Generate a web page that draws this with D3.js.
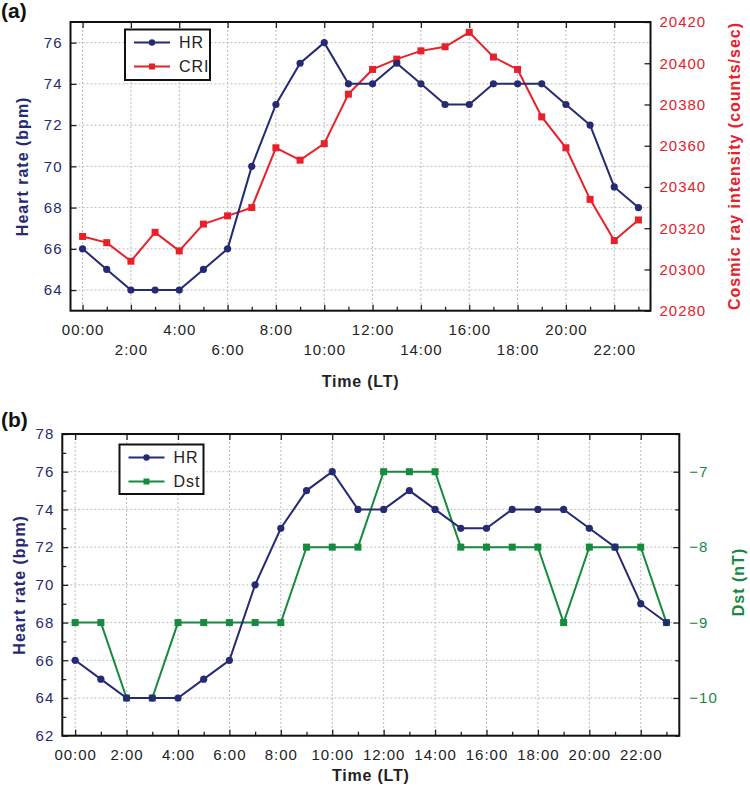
<!DOCTYPE html>
<html lang="en">
<head>
<meta charset="UTF-8">
<script src="https://d3js.org/d3.v7.min.js"></script>
<style>
  body { margin: 0; background: #fff; }
  svg { display: block; }
  text { font-family: "Liberation Sans", Arial, sans-serif; }
</style>
</head>
<body>
<div id="chart"></div>
<script>
// hours of the day (local time)
const hours = [0,1,2,3,4,5,6,7,8,9,10,11,12,13,14,15,16,17,18,19,20,21,22,23];
const hourLabels = ["00:00","2:00","4:00","6:00","8:00","10:00","12:00","14:00","16:00","18:00","20:00","22:00"];
const labelHours = [0,2,4,6,8,10,12,14,16,18,20,22];

// heart rate (bpm), same in both panels
const hr = [66,65,64,64,64,65,66,70,73,75,76,74,74,75,74,73,73,74,74,74,73,72,69,68];
// cosmic ray intensity (counts/sec)
const cri = [20316,20313,20304,20318,20309,20322,20326,20330,20359,20353,20361,20385,
             20397,20402,20406,20408,20415,20403,20397,20374,20359,20334,20314,20324];
// Dst index (nT)
const dst = [-9,-9,-10,-10,-9,-9,-9,-9,-9,-8,-8,-8,-7,-7,-7,-8,-8,-8,-8,-9,-8,-8,-8,-9];

const hrTicksA = [64,66,68,70,72,74,76];
const criTicks = [20280,20300,20320,20340,20360,20380,20400,20420];
const hrTicksB = [62,64,66,68,70,72,74,76,78];
const dstTicks = [-10,-9,-8,-7];

const navy = "#262a72";
const red = "#e8202a";
const green = "#168a3e";
const font = "'Liberation Sans', Arial, sans-serif";

const svg = d3.select("#chart").append("svg")
  .attr("width", 750).attr("height", 796);

function styleAxis(g, color) {
  g.select(".domain").remove();
  g.selectAll("line").attr("stroke", "#222").attr("stroke-width", 1.3);
  g.selectAll("text").attr("font-family", font).attr("font-size", 15)
    .attr("fill", color).style("letter-spacing", "1px");
}

function drawPanel(p) {
  const x = d3.scaleLinear().domain([-0.5, 23.5]).range([p.left, p.right]);
  const yL = d3.scaleLinear().domain(p.hrDomain).range([p.bottom, p.top]);
  const yR = d3.scaleLinear().domain(p.rDomain).range([p.bottom, p.top]);
  const g = svg.append("g");

  // grid
  g.append("g").selectAll("line").data(labelHours).join("line")
    .attr("x1", d => x(d)).attr("x2", d => x(d))
    .attr("y1", p.top).attr("y2", p.bottom)
    .attr("stroke", "#bdbdbd").attr("stroke-dasharray", "2,2");
  g.append("g").selectAll("line").data(p.hrTicks).join("line")
    .attr("x1", p.left).attr("x2", p.right)
    .attr("y1", d => yL(d)).attr("y2", d => yL(d))
    .attr("stroke", "#bdbdbd").attr("stroke-dasharray", "2,2");

  // axes
  const ax = g.append("g").attr("transform", `translate(0,${p.bottom})`)
    .call(d3.axisBottom(x).tickValues(labelHours)
      .tickFormat((d, i) => hourLabels[i]).tickSizeInner(-6).tickSizeOuter(0).tickPadding(14));
  styleAxis(ax, "#222");
  if (p.twoRows) {
    ax.selectAll(".tick text").attr("dy", d => (d % 4 === 2) ? "2.05em" : "0.71em");
  }
  const axm = g.append("g").attr("transform", `translate(0,${p.bottom})`)
    .call(d3.axisBottom(x).tickValues(hours.filter(h => h % 2 === 1))
      .tickFormat("").tickSizeInner(-4).tickSizeOuter(0));
  styleAxis(axm, "#222");
  const at = g.append("g").attr("transform", `translate(0,${p.top})`)
    .call(d3.axisTop(x).tickValues(labelHours).tickFormat("").tickSizeInner(-6).tickSizeOuter(0));
  styleAxis(at, "#222");

  const al = g.append("g").attr("transform", `translate(${p.left},0)`)
    .call(d3.axisLeft(yL).tickValues(p.hrTicks).tickFormat(d3.format("d"))
      .tickSizeInner(-6).tickSizeOuter(0).tickPadding(8));
  styleAxis(al, navy);
  if (p.hrMinor) {
    const alm = g.append("g").attr("transform", `translate(${p.left},0)`)
      .call(d3.axisLeft(yL).tickValues(p.hrMinor).tickFormat("").tickSizeInner(-4).tickSizeOuter(0));
    styleAxis(alm, navy);
  }
  const ar = g.append("g").attr("transform", `translate(${p.right},0)`)
    .call(d3.axisRight(yR).tickValues(p.rTicks).tickFormat(p.rFormat)
      .tickSizeInner(-6).tickSizeOuter(0).tickPadding(p.rPad));
  styleAxis(ar, p.rColor);
  if (p.rMinor) {
    const arm = g.append("g").attr("transform", `translate(${p.right},0)`)
      .call(d3.axisRight(yR).tickValues(p.rMinor).tickFormat("").tickSizeInner(-4).tickSizeOuter(0));
    styleAxis(arm, p.rColor);
  }

  // frame
  g.append("rect").attr("x", p.left).attr("y", p.top)
    .attr("width", p.right - p.left).attr("height", p.bottom - p.top)
    .attr("fill", "none").attr("stroke", "#111").attr("stroke-width", 2);

  // series
  const lineL = d3.line().x((d, i) => x(hours[i])).y(d => yL(d));
  const lineR = d3.line().x((d, i) => x(hours[i])).y(d => yR(d));

  g.append("path").datum(p.rData).attr("d", lineR)
    .attr("fill", "none").attr("stroke", p.rColor).attr("stroke-width", 2);
  g.append("g").selectAll("rect").data(p.rData).join("rect")
    .attr("x", (d, i) => x(hours[i]) - 3.5).attr("y", d => yR(d) - 3.5)
    .attr("width", 7).attr("height", 7).attr("fill", p.rColor);

  g.append("path").datum(hr).attr("d", lineL)
    .attr("fill", "none").attr("stroke", navy).attr("stroke-width", 2);
  g.append("g").selectAll("circle").data(hr).join("circle")
    .attr("cx", (d, i) => x(hours[i])).attr("cy", d => yL(d))
    .attr("r", 3.6).attr("fill", navy);

  // legend
  const lg = g.append("g");
  lg.append("rect").attr("x", p.leg.x).attr("y", p.leg.y).attr("width", p.leg.w).attr("height", p.leg.h)
    .attr("fill", "#fff").attr("stroke", "#111").attr("stroke-width", 2);
  const items = [
    { name: "HR", color: navy, shape: "circle" },
    { name: p.rName, color: p.rColor, shape: "square" }
  ];
  items.forEach((it, i) => {
    const yy = p.leg.y + 13 + i * 24;
    const x0 = p.leg.x + 9, x1 = x0 + 36;
    lg.append("line").attr("x1", x0).attr("x2", x1).attr("y1", yy).attr("y2", yy)
      .attr("stroke", it.color).attr("stroke-width", 2);
    if (it.shape === "circle") {
      lg.append("circle").attr("cx", (x0 + x1) / 2).attr("cy", yy).attr("r", 3.2).attr("fill", it.color);
    } else {
      lg.append("rect").attr("x", (x0 + x1) / 2 - 3).attr("y", yy - 3).attr("width", 6).attr("height", 6).attr("fill", it.color);
    }
    lg.append("text").attr("x", x1 + 9).attr("y", yy + 5.5).text(it.name)
      .attr("font-size", 16).attr("fill", "#222").style("letter-spacing", "1px");
  });

  // titles
  svg.append("text").attr("x", (p.left + p.right) / 2).attr("y", p.xTitleY)
    .attr("text-anchor", "middle").attr("font-weight", "bold").attr("font-size", 16)
    .attr("fill", "#222").style("letter-spacing", "0.8px").text("Time (LT)");
  svg.append("text").attr("transform", `translate(${p.lTitleX},${(p.top + p.bottom) / 2}) rotate(-90)`)
    .attr("text-anchor", "middle").attr("font-weight", "bold").attr("font-size", 16)
    .attr("fill", navy).style("letter-spacing", "1px").text("Heart rate (bpm)");
  svg.append("text").attr("transform", `translate(${p.rTitleX},${p.rTitleY}) rotate(-90)`)
    .attr("text-anchor", "middle").attr("font-weight", "bold").attr("font-size", 16)
    .attr("fill", p.rColor).style("letter-spacing", "1px").text(p.rTitle);
  svg.append("text").attr("x", 1).attr("y", p.tagY)
    .attr("font-family", "'Liberation Serif', 'Times New Roman', serif")
    .attr("font-weight", "bold").attr("font-size", 21).attr("fill", "#111").text(p.tag);
}

drawPanel({
  left: 70.5, right: 650.5, top: 22, bottom: 310.7,
  hrDomain: [63, 77], hrTicks: hrTicksA,
  rDomain: [20280, 20420], rTicks: criTicks, rFormat: d3.format("d"), rPad: 9,
  rData: cri, rColor: red, rName: "CRI",
  rTitle: "Cosmic ray intensity (counts/sec)", rTitleX: 740, rTitleY: 166,
  twoRows: true, xTitleY: 387, lTitleX: 28, tagY: 18, tag: "(a)",
  leg: { x: 125, y: 29.5, w: 85, h: 50.5 }
});

drawPanel({
  left: 62.3, right: 679.3, top: 434, bottom: 735.7,
  hrDomain: [62, 78], hrTicks: hrTicksB, hrMinor: [63,65,67,69,71,73,75,77],
  rDomain: [-10.5, -6.5], rTicks: dstTicks, rFormat: d3.format("d"), rPad: 10,
  rMinor: [-10.5,-9.5,-8.5,-7.5,-6.5],
  rData: dst, rColor: green, rName: "Dst",
  rTitle: "Dst (nT)", rTitleX: 744, rTitleY: 582,
  twoRows: false, xTitleY: 781, lTitleX: 25, tagY: 427, tag: "(b)",
  leg: { x: 119.5, y: 444.5, w: 84, h: 49.5 }
});
</script>
</body>
</html>
